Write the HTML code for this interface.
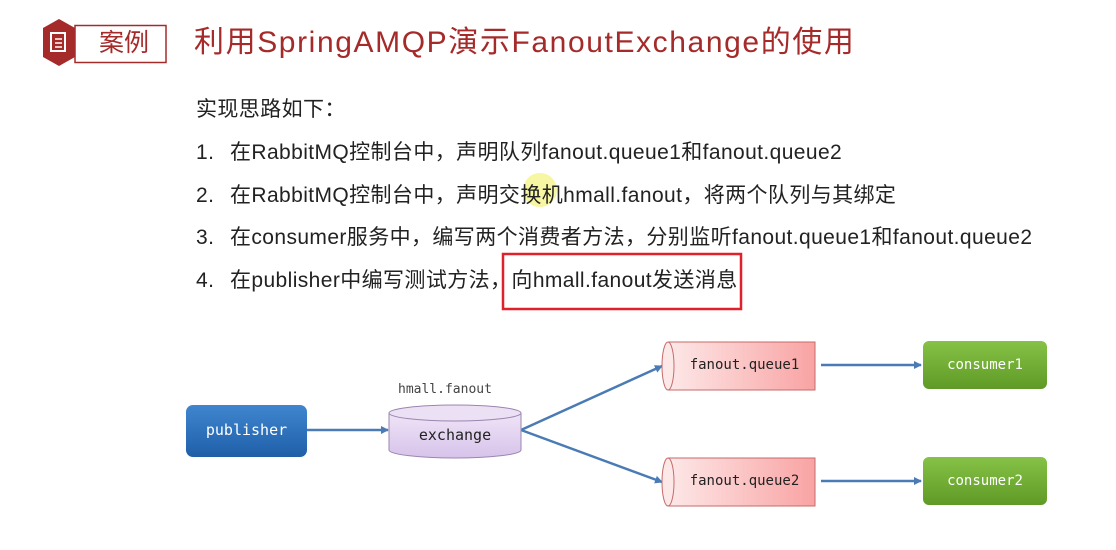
<!DOCTYPE html>
<html><head><meta charset="utf-8"><style>
body{margin:0;width:1116px;height:550px;background:#fff;position:relative;overflow:hidden;font-family:"Liberation Sans","Noto Sans CJK SC",sans-serif}
.a{position:absolute;white-space:nowrap}
.t{font-size:21px;letter-spacing:0.4px;color:#222;line-height:24px}
.m{font-family:"DejaVu Sans Mono","Liberation Mono",monospace}
</style></head><body>
<svg class="a" style="left:0;top:0" width="1116" height="550">
<defs>
<linearGradient id="b" x1="0" y1="0" x2="0" y2="1"><stop offset="0" stop-color="#3f86cf"/><stop offset="1" stop-color="#1f5fa8"/></linearGradient>
<linearGradient id="g" x1="0" y1="0" x2="0" y2="1"><stop offset="0" stop-color="#86c246"/><stop offset="1" stop-color="#5f9a26"/></linearGradient>
<linearGradient id="p" x1="0" y1="0" x2="0" y2="1"><stop offset="0" stop-color="#efe4f7"/><stop offset="1" stop-color="#d7c3ea"/></linearGradient>
<linearGradient id="r" x1="0" y1="0" x2="1" y2="0"><stop offset="0" stop-color="#fde8e8"/><stop offset="1" stop-color="#f9a3a3"/></linearGradient>
<marker id="ar" markerWidth="8" markerHeight="8" refX="7" refY="4" orient="auto" markerUnits="userSpaceOnUse"><path d="M0,0 L8,4 L0,8 z" fill="#4a7bb5"/></marker>
</defs>
<polygon points="59,19 75,28 75,57 59,66 43,57 43,28" fill="#a52a2a"/>
<rect x="51" y="33" width="14" height="18" fill="none" stroke="#fff" stroke-width="2"/>
<line x1="55" y1="39" x2="62" y2="39" stroke="#fff" stroke-width="1.5"/><line x1="55" y1="43" x2="62" y2="43" stroke="#fff" stroke-width="1.5"/><line x1="55" y1="47" x2="62" y2="47" stroke="#fff" stroke-width="1.5"/>
<rect x="75" y="25.5" width="91" height="37" fill="none" stroke="#a52a2a" stroke-width="1.5"/>
<circle cx="540" cy="190" r="17" fill="#f4f27a" opacity="0.7"/>
<rect x="503" y="254" width="238" height="55" fill="none" stroke="#e0202a" stroke-width="2.5"/>
<g stroke="#4a7bb5" stroke-width="2.5" fill="none" marker-end="url(#ar)">
<line x1="306" y1="430" x2="388" y2="430"/>
<line x1="521" y1="430" x2="662" y2="366"/>
<line x1="521" y1="430" x2="662" y2="482"/>
<line x1="821" y1="365" x2="921" y2="365"/>
<line x1="821" y1="481" x2="921" y2="481"/>
</g>
<rect x="186" y="405" width="121" height="52" rx="7" fill="url(#b)"/>
<path d="M389,413 L389,450 A66,8 0 0 0 521,450 L521,413" fill="url(#p)" stroke="#9a86b0"/>
<ellipse cx="455" cy="413" rx="66" ry="8" fill="#ece0f5" stroke="#9a86b0"/>
<path d="M668,342 L815,342 L815,390 L668,390" fill="url(#r)" stroke="#c76a6a"/>
<ellipse cx="668" cy="366" rx="6" ry="24" fill="#fde8e8" stroke="#c76a6a"/>
<path d="M668,458 L815,458 L815,506 L668,506" fill="url(#r)" stroke="#c76a6a"/>
<ellipse cx="668" cy="482" rx="6" ry="24" fill="#fde8e8" stroke="#c76a6a"/>
<rect x="923" y="341" width="124" height="48" rx="6" fill="url(#g)"/>
<rect x="923" y="457" width="124" height="48" rx="6" fill="url(#g)"/>
</svg>
<div class="a" style="left:99px;top:27px;font-size:25px;color:#a52a2a;line-height:32px">案例</div>
<div class="a" style="left:194px;top:25px;font-size:30px;letter-spacing:1.6px;color:#a52a2a;line-height:36px">利用SpringAMQP演示FanoutExchange的使用</div>
<div class="a t" style="left:196px;top:98px">实现思路如下：</div>
<div class="a t" style="left:196px;top:141px">1.</div><div class="a t" style="left:230px;top:141px">在RabbitMQ控制台中，声明队列fanout.queue1和fanout.queue2</div>
<div class="a t" style="left:196px;top:184px">2.</div><div class="a t" style="left:230px;top:184px">在RabbitMQ控制台中，声明交换机hmall.fanout，将两个队列与其绑定</div>
<div class="a t" style="left:196px;top:226px">3.</div><div class="a t" style="left:230px;top:226px">在consumer服务中，编写两个消费者方法，分别监听fanout.queue1和fanout.queue2</div>
<div class="a t" style="left:196px;top:269px">4.</div><div class="a t" style="left:230px;top:269px">在publisher中编写测试方法，向hmall.fanout发送消息</div>
<div class="a m" style="left:398px;top:382px;font-size:13px;color:#444">hmall.fanout</div>
<div class="a m" style="left:186px;top:421px;width:121px;text-align:center;font-size:15px;color:#fff">publisher</div>
<div class="a m" style="left:389px;top:426px;width:132px;text-align:center;font-size:15px;color:#222">exchange</div>
<div class="a m" style="left:674px;top:357px;width:141px;text-align:center;font-size:14px;color:#222">fanout.queue1</div>
<div class="a m" style="left:674px;top:473px;width:141px;text-align:center;font-size:14px;color:#222">fanout.queue2</div>
<div class="a m" style="left:923px;top:357px;width:124px;text-align:center;font-size:14px;color:#fff">consumer1</div>
<div class="a m" style="left:923px;top:473px;width:124px;text-align:center;font-size:14px;color:#fff">consumer2</div>
</body></html>
